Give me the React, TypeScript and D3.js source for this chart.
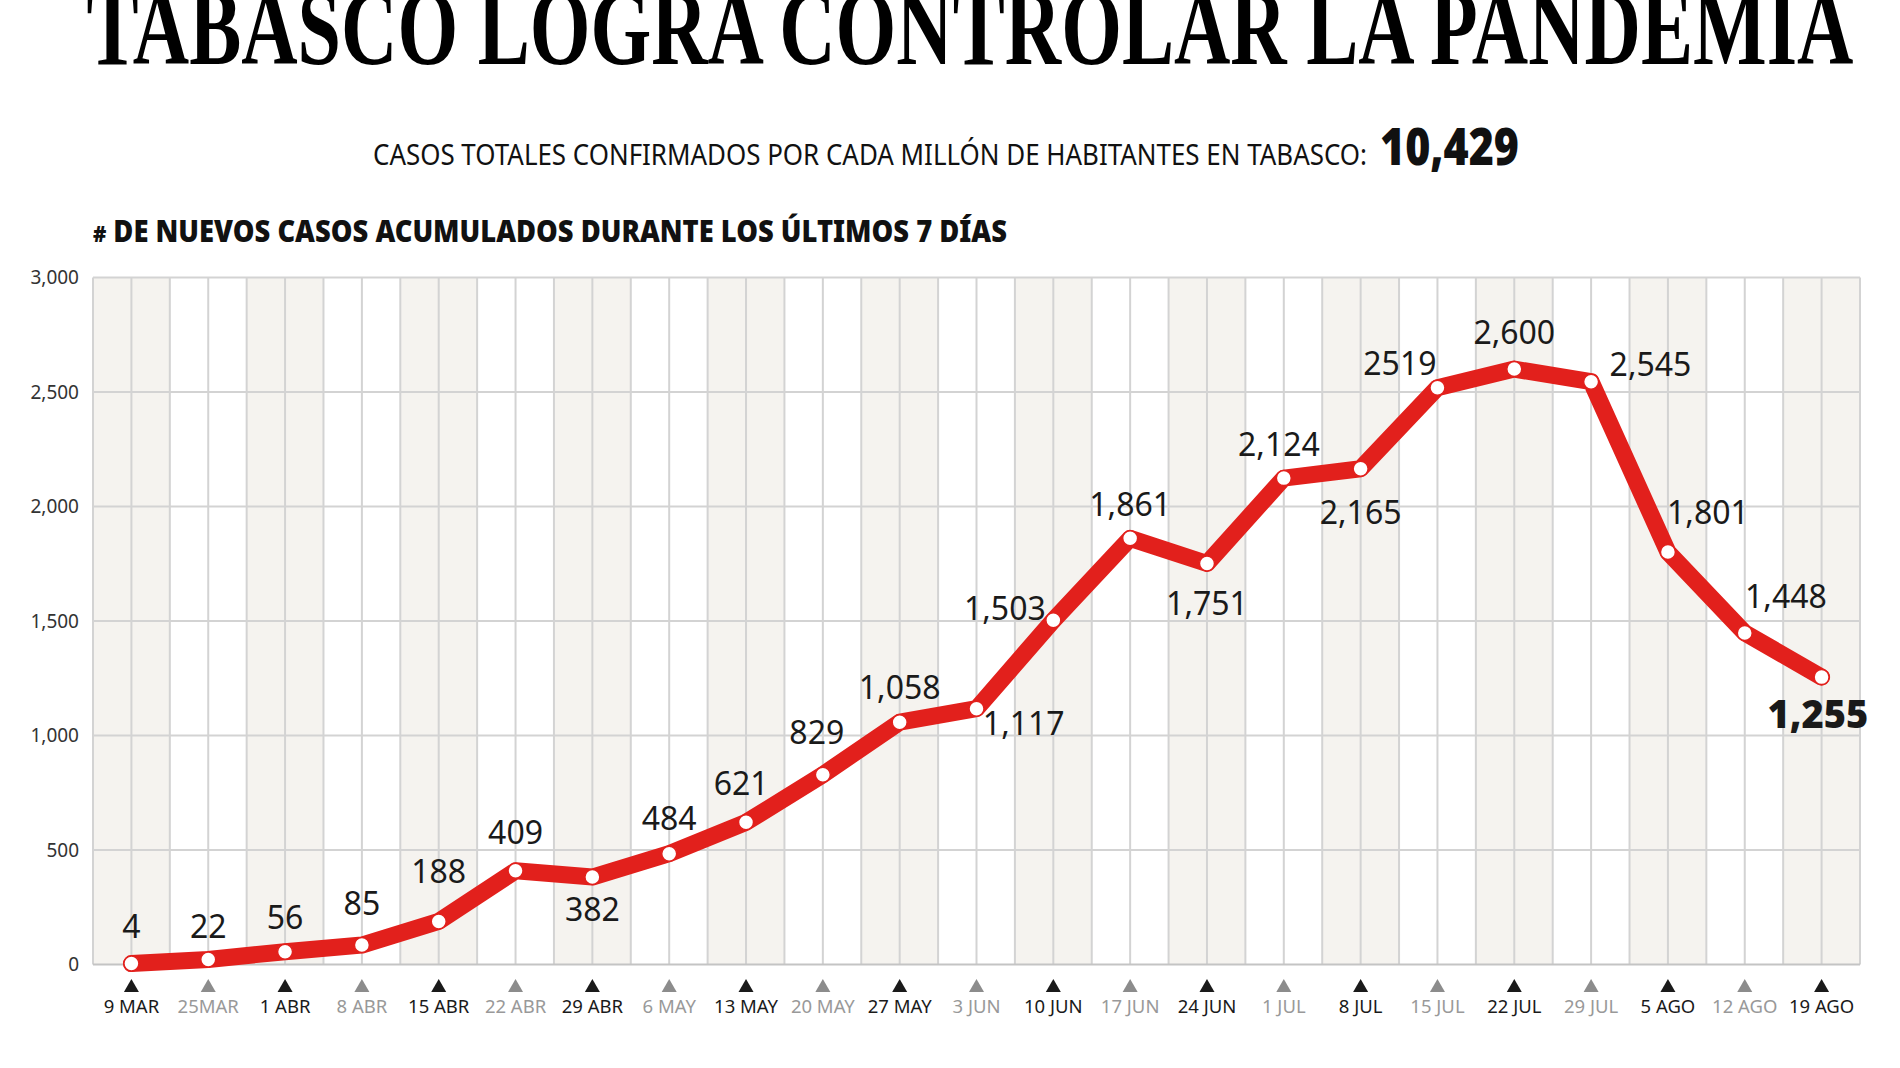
import React from "react";
import * as d3 from "d3";

const dates = ["9 MAR","25MAR","1 ABR","8 ABR","15 ABR","22 ABR","29 ABR","6 MAY","13 MAY","20 MAY","27 MAY","3 JUN","10 JUN","17 JUN","24 JUN","1 JUL","8 JUL","15 JUL","22 JUL","29 JUL","5 AGO","12 AGO","19 AGO"];
const cases = [4,22,56,85,188,409,382,484,621,829,1058,1117,1503,1861,1751,2124,2165,2519,2600,2545,1801,1448,1255];
const valueLabels = ["4","22","56","85","188","409","382","484","621","829","1,058","1,117","1,503","1,861","1,751","2,124","2,165","2519","2,600","2,545","1,801","1,448","1,255"];
const yTicks = [0,500,1000,1500,2000,2500,3000];

// label offsets (display px relative to point), scaled later
const labelOffsets: [number, number][] = [
  [0,-31],[0,-27],[0,-28],[0,-34],[0,-41],[0,-32],[0,27],[0,-29],[-4,-32],[-5,-35],
  [0,-29],[39,12],[-40,-10],[0,-28],[0,33],[-4,-28],[0,36],[-31,-20],[0,-30],[49,-14],
  [33,-33],[34,-30],[-3,31]
];

const W = 1900, H = 1068;
const LEFT = 93, RIGHT = 1860, TOP = 277.5, BOTTOM = 964.5;
const RED = "#e2201c";
const SANS = "'Noto Sans', sans-serif";

export default function App() {
  const x = d3.scaleBand<string>().domain(dates).range([LEFT, RIGHT]).padding(0);
  const bw = x.bandwidth();
  const cx = (d: string) => (x(d) as number) + bw / 2;
  const y = d3.scaleLinear().domain([0, 3000]).range([BOTTOM, TOP]);
  const line = d3.line<number>().x((_, i) => cx(dates[i])).y((v) => y(v)).curve(d3.curveLinear);
  const k = 1.2117;

  const verticals: number[] = [];
  dates.forEach((d) => { verticals.push(x(d) as number); verticals.push(cx(d)); });
  verticals.push(RIGHT);

  return (
    <svg width={W} height={H} viewBox={`0 0 ${W} ${H}`} style={{ display: "block", position: "absolute", left: 0, top: 0, background: "#fff" }}>
      <rect x={0} y={0} width={W} height={H} fill="#fff" />
      <text x={970} y={64} textAnchor="middle" fontFamily="'Liberation Serif', 'DejaVu Serif', serif" fontWeight="bold" fontSize={108} textLength={1767} lengthAdjust="spacingAndGlyphs" fill="#000">TABASCO LOGRA CONTROLAR LA PANDEMIA</text>

      <text x={373} y={165} fontFamily={SANS} fontSize={29} textLength={994} lengthAdjust="spacingAndGlyphs" fill="#111">CASOS TOTALES CONFIRMADOS POR CADA MILLÓN DE HABITANTES EN TABASCO:</text>
      <text x={1380} y={165} fontFamily={SANS} fontWeight="900" fontSize={51} textLength={139} lengthAdjust="spacingAndGlyphs" fill="#111">10,429</text>

      <text x={93} y={242} fontFamily={SANS} fontWeight="900" fontSize={30} textLength={914} lengthAdjust="spacingAndGlyphs" fill="#111">
        <tspan fontSize={22}>#</tspan> DE NUEVOS CASOS ACUMULADOS DURANTE LOS ÚLTIMOS 7 DÍAS
      </text>

      {/* shaded bands */}
      {dates.map((d, i) => i % 2 === 0 ? (
        <rect key={"b" + d} x={x(d)} y={TOP} width={bw} height={BOTTOM - TOP} fill="#f5f3ef" />
      ) : null)}
      {/* vertical grid */}
      {verticals.map((vx, i) => (
        <line key={"v" + i} x1={vx} x2={vx} y1={TOP} y2={BOTTOM} stroke="#d3d3d3" strokeWidth={2} />
      ))}
      {/* horizontal grid */}
      {yTicks.map((t) => (
        <line key={"h" + t} x1={LEFT} x2={RIGHT} y1={y(t)} y2={y(t)} stroke={t === 0 ? "#c4c4c4" : "#d3d3d3"} strokeWidth={2} />
      ))}
      {yTicks.map((t) => (
        <text key={"yt" + t} x={79} y={y(t)} dy="0.35em" textAnchor="end" fontFamily={SANS} fontSize={19} fill="#333">{d3.format(",")(t)}</text>
      ))}

      {/* line */}
      <path d={line(cases) as string} fill="none" stroke={RED} strokeWidth={17} strokeLinejoin="round" strokeLinecap="round" />
      {cases.map((v, i) => (
        <circle key={"c" + i} cx={cx(dates[i])} cy={y(v)} r={7.5} fill="#fff" stroke={RED} strokeWidth={1.5} />
      ))}

      {/* value labels */}
      {cases.map((v, i) => {
        const last = i === cases.length - 1;
        return (
          <text key={"l" + i} x={cx(dates[i]) + labelOffsets[i][0] * k} y={y(v) + labelOffsets[i][1] * k} dy="0.36em" textAnchor="middle"
            fontFamily={SANS} fontSize={last ? 38 : 32} fontWeight={last ? 900 : 400} fill="#1a1a1a">{valueLabels[i]}</text>
        );
      })}

      {/* x axis triangles & labels */}
      {dates.map((d, i) => {
        const c = cx(d);
        const col = i % 2 === 0 ? "#1a1a1a" : "#8c8c8c";
        return (
          <g key={"x" + d}>
            <path d={`M${c - 7.5},992 L${c + 7.5},992 L${c},979 Z`} fill={col} />
            <text x={c} y={1013} textAnchor="middle" fontFamily={SANS} fontSize={18.5} fill={i % 2 === 0 ? "#1a1a1a" : "#999"}>{d}</text>
          </g>
        );
      })}
    </svg>
  );
}
